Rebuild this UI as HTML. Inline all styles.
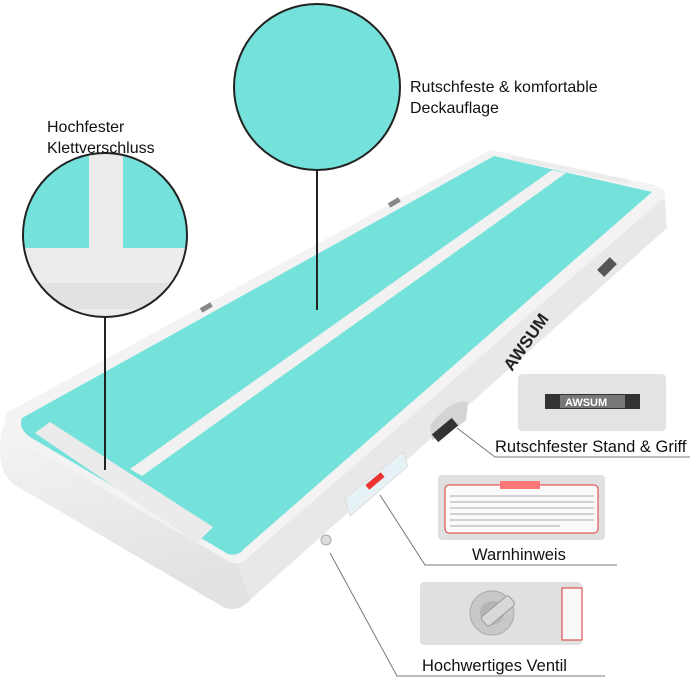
<!DOCTYPE html>
<html><head><meta charset="utf-8"><style>
body{margin:0;background:#fff;}
svg{display:block}
text{font-family:"Liberation Sans",sans-serif;fill:#111}
</style></head><body>
<svg width="700" height="700" viewBox="0 0 700 700">
<defs>
<clipPath id="c1"><circle cx="105" cy="235" r="82"/></clipPath>
<linearGradient id="fg" x1="0" y1="0" x2="0.3" y2="1">
<stop offset="0" stop-color="#f4f4f4"/><stop offset="1" stop-color="#e2e2e2"/></linearGradient>
</defs>
<!-- side face -->
<polygon points="664,190 667,228 250,600 236,562" fill="#e8e8e8"/>
<!-- front face -->
<path d="M4,425 L236,560 L250,600 Q240,612 225,608 L15,485 Q0,475 0,450 Q0,432 4,425 Z" fill="url(#fg)"/>
<!-- top surface -->
<path d="M490,150 L655,185 Q668,190 664,198 L245,560 Q238,566 230,562 L10,435 Q0,425 8,412 Z" fill="#f3f3f3"/>
<!-- teal -->
<path d="M494,156 L652,192 L245,548 Q238,557 228,554 L30,437 Q18,428 22,418 Z" fill="#74e2db"/>
<!-- stripes -->
<polygon points="552,170 566,173 142,476 130,469" fill="#f1f1f1"/>
<polygon points="510,155 630,180 628,184 512,160" fill="#ececec"/>
<polygon points="50,422 35,433 197,543 213,527" fill="#ebebeb"/>
<!-- handles -->
<path d="M430,425 Q452,398 468,402 L466,420 Q452,432 432,440 Z" fill="#d4d4d4"/>
<rect x="432" y="425" width="26" height="10" fill="#333" transform="rotate(-40 445 430)"/>
<rect x="598" y="262" width="18" height="10" fill="#555" transform="rotate(-45 607 267)"/>
<rect x="388" y="200" width="12" height="5" fill="#888" transform="rotate(-30 394 202)"/>
<rect x="200" y="305" width="12" height="5" fill="#888" transform="rotate(-30 206 307)"/>
<text x="0" y="0" font-size="17" font-weight="bold" transform="translate(512,372) rotate(-55)" style="fill:#222">AWSUM</text>
<!-- warning sticker on side -->
<polygon points="345,498 403,452 408,466 350,516" fill="#e6f2f6" stroke="#ddd"/>
<rect x="365" y="478" width="20" height="6" fill="#e33" transform="rotate(-40 375 481)"/>
<circle cx="326" cy="540" r="5" fill="#ddd" stroke="#aaa"/>
<!-- circles -->
<circle cx="317" cy="87" r="83" fill="#74e2db" stroke="#222" stroke-width="2"/>
<g clip-path="url(#c1)">
<rect x="20" y="150" width="170" height="170" fill="#74e2db"/>
<rect x="20" y="248" width="170" height="80" fill="#ececec"/>
<rect x="20" y="283" width="170" height="26" fill="#e2e2e2"/>
<rect x="89" y="150" width="34" height="100" fill="#ececec"/>
</g>
<circle cx="105" cy="235" r="82" fill="none" stroke="#222" stroke-width="2"/>
<!-- pointer lines -->
<line x1="317" y1="170" x2="317" y2="310" stroke="#222" stroke-width="2"/>
<line x1="105" y1="317" x2="105" y2="470" stroke="#222" stroke-width="2"/>
<polyline points="457,428 495,457 690,457" fill="none" stroke="#777" stroke-width="1"/>
<polyline points="380,495 425,565 617,565" fill="none" stroke="#777" stroke-width="1"/>
<polyline points="330,553 397,676 605,676" fill="none" stroke="#777" stroke-width="1"/>
<!-- insets -->
<rect x="518" y="374" width="148" height="57" rx="4" fill="#e3e3e3"/>
<rect x="545" y="394" width="95" height="15" fill="#333"/>
<rect x="560" y="395" width="65" height="13" fill="#777"/>
<text x="565" y="406" font-size="11" font-weight="bold" style="fill:#fff">AWSUM</text>
<rect x="438" y="475" width="167" height="65" rx="4" fill="#e0e0e0"/>
<rect x="445" y="485" width="153" height="48" rx="4" fill="#fafafa" stroke="#d33"/>
<rect x="500" y="481" width="40" height="8" fill="#f77"/>
<g stroke="#aaa" stroke-width="1">
<line x1="450" y1="496" x2="594" y2="496"/><line x1="450" y1="502" x2="594" y2="502"/><line x1="450" y1="508" x2="594" y2="508"/><line x1="450" y1="514" x2="594" y2="514"/><line x1="450" y1="520" x2="594" y2="520"/><line x1="450" y1="526" x2="560" y2="526"/></g>
<rect x="420" y="582" width="162" height="63" rx="4" fill="#e0e0e0"/>
<circle cx="492" cy="613" r="22" fill="#c8c8c8" stroke="#aaa"/>
<circle cx="492" cy="613" r="12" fill="#b5b5b5"/>
<rect x="480" y="605" width="36" height="12" rx="3" fill="#d8d8d8" stroke="#999" transform="rotate(-40 498 611)"/>
<rect x="562" y="588" width="20" height="52" fill="#fafafa" stroke="#d33"/>
<!-- labels -->
<text x="410" y="92" font-size="16">Rutschfeste &amp; komfortable</text>
<text x="410" y="113" font-size="16">Deckauflage</text>
<text x="47" y="132" font-size="16">Hochfester</text>
<text x="47" y="153" font-size="16">Klettverschluss</text>
<text x="495" y="452" font-size="16.5">Rutschfester Stand &amp; Griff</text>
<text x="472" y="560" font-size="16.5">Warnhinweis</text>
<text x="422" y="671" font-size="16.5">Hochwertiges Ventil</text>
</svg>
</body></html>
